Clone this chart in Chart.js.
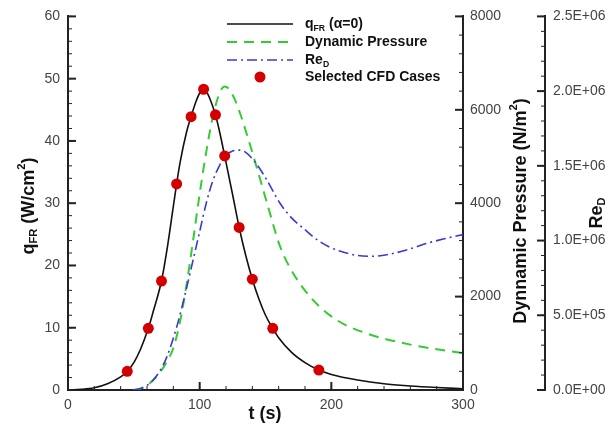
<!DOCTYPE html>
<html>
<head>
<meta charset="utf-8">
<script src="https://cdn.jsdelivr.net/npm/chart.js@4"></script>
<style>
html, body { margin: 0; padding: 0; background: #fff; }
#wrap { width: 616px; height: 432px; }
</style>
</head>
<body>
<div id="wrap"><canvas id="chart" width="616" height="432"></canvas></div>
<script>
// q_FR (alpha=0) heat flux, W/cm2
const tQ  = [0, 10, 20, 30, 40, 45, 50, 55, 61, 65, 71, 75, 80, 82.5, 85, 90, 93.5, 97, 100, 103, 106, 109, 112, 115, 119, 125, 130, 135, 140, 145, 150, 155.5, 160, 170, 180, 190.5, 200, 220, 240, 260, 280, 300];
const qFR = [0, 0.1, 0.35, 1.0, 2.1, 3.0, 4.4, 6.5, 9.9, 12.8, 17.5, 22.3, 29.5, 33.1, 36.4, 41.4, 43.9, 46.2, 47.7, 48.3, 47.6, 46.1, 44.2, 41.6, 37.6, 31.4, 26.1, 21.6, 17.8, 14.6, 12.0, 9.9, 8.4, 6.0, 4.4, 3.2, 2.5, 1.6, 1.0, 0.65, 0.4, 0.2];

// selected CFD cases
const tCases = [45, 61, 71, 82.5, 93.5, 103, 112, 119, 130, 140, 155.5, 190.5];
const qCases = [3.0, 9.9, 17.5, 33.1, 43.9, 48.3, 44.2, 37.6, 26.1, 17.8, 9.9, 3.2];

// dynamic pressure, N/m2
const tDP  = [50, 55, 60, 65, 70, 75, 80, 85, 90, 95, 100, 105, 110, 115, 119, 123, 127, 131, 135, 143, 152, 161, 171, 186, 204, 227, 262, 300];
const dynP = [0, 30, 100, 220, 380, 600, 900, 1450, 2250, 3200, 4200, 5100, 5850, 6350, 6500, 6420, 6200, 5900, 5550, 4800, 3920, 3080, 2500, 1930, 1500, 1210, 960, 790];

// Re_D
const tRe = [50, 55, 60, 65, 70, 75, 82.5, 90, 95, 100, 105, 110, 115, 120, 125, 130, 135, 143, 150, 161, 170, 179, 190, 199, 210, 220, 232, 245, 260, 272, 285, 300];
const reD = [0, 0.01e6, 0.03e6, 0.07e6, 0.13e6, 0.22e6, 0.42e6, 0.68e6, 0.87e6, 1.06e6, 1.25e6, 1.40e6, 1.50e6, 1.57e6, 1.60e6, 1.605e6, 1.59e6, 1.515e6, 1.42e6, 1.25e6, 1.15e6, 1.08e6, 1.00e6, 0.955e6, 0.92e6, 0.90e6, 0.895e6, 0.91e6, 0.945e6, 0.98e6, 1.01e6, 1.04e6];

// axis ticks
const xTicks  = [0, 100, 200, 300];
const qTicks  = [0, 10, 20, 30, 40, 50, 60];
const dpTicks = [0, 2000, 4000, 6000, 8000];
const reTicks = [0, 5e5, 1e6, 1.5e6, 2e6, 2.5e6];

const legendLabels = ['q_{FR} (α=0)', 'Dynamic Pressure', 'Re_{D}', 'Selected CFD Cases'];

function pts(xs, ys) {
    return xs.map((x, i) => ({ x: x, y: ys[i] }));
}

function sciLabel(v) {
    if (v === 0) return '0.0E+00';
    const e = Math.floor(Math.log10(v) + 1e-9);
    const m = v / Math.pow(10, e);
    return m.toFixed(1) + 'E+' + String(e).padStart(2, '0');
}

// draws text with _{sub} and ^{sup} parts
function drawRich(ctx, str, x, y, size, align) {
    const parts = [];
    const re = /([_^])\{([^}]*)\}/g;
    let last = 0, m;
    while ((m = re.exec(str)) !== null) {
        if (m.index > last) parts.push({ t: str.slice(last, m.index), s: size, dy: 0 });
        parts.push({ t: m[2], s: size * 0.62, dy: m[1] === '_' ? size * 0.3 : -size * 0.42 });
        last = re.lastIndex;
    }
    if (last < str.length) parts.push({ t: str.slice(last), s: size, dy: 0 });

    let total = 0;
    parts.forEach(p => {
        ctx.font = 'bold ' + p.s + 'px Arial, "Liberation Sans", sans-serif';
        p.w = ctx.measureText(p.t).width;
        total += p.w;
    });
    let cx = align === 'center' ? x - total / 2 : x;
    ctx.textBaseline = 'middle';
    ctx.textAlign = 'left';
    parts.forEach(p => {
        ctx.font = 'bold ' + p.s + 'px Arial, "Liberation Sans", sans-serif';
        ctx.fillText(p.t, cx, y + p.dy);
        cx += p.w;
    });
}

const tickMarks = {
    id: 'tickMarks',
    afterDraw(chart) {
        const ctx = chart.ctx;
        const axes = [
            { id: 'x',  major: xTicks,  minor: 20,  side: 'bottom' },
            { id: 'y',  major: qTicks,  minor: 2,   side: 'left' },
            { id: 'y1', major: dpTicks, minor: 400, side: 'right' },
            { id: 'y2', major: reTicks, minor: 1e5, side: 'right' }
        ];
        ctx.save();
        ctx.strokeStyle = '#222';
        axes.forEach(a => {
            const s = chart.scales[a.id];
            const draw = (v, len, w) => {
                const p = s.getPixelForValue(v);
                ctx.lineWidth = w;
                ctx.beginPath();
                if (a.side === 'bottom') {
                    ctx.moveTo(p, s.top); ctx.lineTo(p, s.top - len);
                } else if (a.side === 'left') {
                    ctx.moveTo(s.right, p); ctx.lineTo(s.right + len, p);
                } else {
                    ctx.moveTo(s.left, p); ctx.lineTo(s.left - len, p);
                }
                ctx.stroke();
            };
            for (let v = s.min; v <= s.max + 1e-6; v += a.minor) draw(v, 4, 1);
            a.major.forEach(v => draw(v, 8, 2));
        });
        ctx.restore();
    }
};

const titlesAndLegend = {
    id: 'titlesAndLegend',
    afterDraw(chart) {
        const ctx = chart.ctx;
        ctx.save();
        ctx.fillStyle = '#111';

        drawRich(ctx, 't (s)', 265, 414, 18, 'center');

        ctx.save();
        ctx.translate(29, 206);
        ctx.rotate(-Math.PI / 2);
        drawRich(ctx, 'q_{FR} (W/cm^{2})', 0, 0, 18, 'center');
        ctx.restore();

        ctx.save();
        ctx.translate(521, 211);
        ctx.rotate(-Math.PI / 2);
        drawRich(ctx, 'Dynnamic Pressure (N/m^{2})', 0, 0, 18, 'center');
        ctx.restore();

        ctx.save();
        ctx.translate(597, 213);
        ctx.rotate(-Math.PI / 2);
        drawRich(ctx, 'Re_{D}', 0, 0, 18, 'center');
        ctx.restore();

        // legend
        const rows = [24, 42, 60, 77];
        const order = [1, 3, 2, 0]; // dataset index per legend row
        order.forEach((di, i) => {
            const ds = chart.data.datasets[di];
            const y = rows[i];
            if (ds.showLine) {
                ctx.strokeStyle = ds.borderColor;
                ctx.lineWidth = ds.borderWidth;
                ctx.setLineDash(ds.borderDash || []);
                ctx.beginPath();
                ctx.moveTo(227, y);
                ctx.lineTo(293, y);
                ctx.stroke();
                ctx.setLineDash([]);
            } else {
                ctx.fillStyle = ds.backgroundColor;
                ctx.beginPath();
                ctx.arc(260, y, 5.5, 0, Math.PI * 2);
                ctx.fill();
            }
            ctx.fillStyle = '#111';
            drawRich(ctx, legendLabels[i], 305, y, 14, 'left');
        });
        ctx.restore();
    }
};

const tickFont = { family: 'Arial, "Liberation Sans", sans-serif', size: 14 };

new Chart(document.getElementById('chart').getContext('2d'), {
    type: 'scatter',
    data: {
        datasets: [
            {
                label: 'Selected CFD Cases',
                data: pts(tCases, qCases),
                yAxisID: 'y',
                showLine: false,
                pointRadius: 5.5,
                pointBackgroundColor: '#d40000',
                pointBorderWidth: 0,
                backgroundColor: '#d40000',
                order: 0
            },
            {
                label: 'q_FR',
                data: pts(tQ, qFR),
                yAxisID: 'y',
                showLine: true,
                borderColor: '#111',
                borderWidth: 1.6,
                pointRadius: 0,
                cubicInterpolationMode: 'monotone',
                order: 1
            },
            {
                label: 'Re_D',
                data: pts(tRe, reD),
                yAxisID: 'y2',
                showLine: true,
                borderColor: '#3a3ad0',
                borderWidth: 1.6,
                borderDash: [10, 4, 2, 4],
                pointRadius: 0,
                cubicInterpolationMode: 'monotone',
                order: 2
            },
            {
                label: 'Dynamic Pressure',
                data: pts(tDP, dynP),
                yAxisID: 'y1',
                showLine: true,
                borderColor: '#33cc33',
                borderWidth: 2,
                borderDash: [10, 7],
                pointRadius: 0,
                cubicInterpolationMode: 'monotone',
                order: 3
            }
        ]
    },
    options: {
        responsive: false,
        animation: false,
        devicePixelRatio: 1,
        layout: { padding: { top: 16, left: 0, right: 0, bottom: 0 } },
        plugins: { legend: { display: false }, tooltip: { enabled: false } },
        scales: {
            x: {
                type: 'linear', position: 'bottom', min: 0, max: 300,
                afterBuildTicks: s => { s.ticks = xTicks.map(v => ({ value: v })); },
                afterFit: s => { s.height = 42; },
                grid: { display: false, drawTicks: false },
                border: { display: true, color: '#222', width: 2 },
                ticks: { font: tickFont, color: '#444', padding: 7, maxRotation: 0, callback: v => String(v) }
            },
            y: {
                type: 'linear', position: 'left', min: 0, max: 60,
                afterBuildTicks: s => { s.ticks = qTicks.map(v => ({ value: v })); },
                afterFit: s => { s.width = 68; },
                grid: { display: false, drawTicks: false },
                border: { display: true, color: '#222', width: 2 },
                ticks: { font: tickFont, color: '#444', padding: 8, callback: v => String(v) }
            },
            y1: {
                type: 'linear', position: 'right', min: 0, max: 8000,
                afterBuildTicks: s => { s.ticks = dpTicks.map(v => ({ value: v })); },
                afterFit: s => { s.width = 82; },
                grid: { display: false, drawTicks: false },
                border: { display: true, color: '#222', width: 2 },
                ticks: { font: tickFont, color: '#444', padding: 7, callback: v => String(v) }
            },
            y2: {
                type: 'linear', position: 'right', min: 0, max: 2.5e6,
                afterBuildTicks: s => { s.ticks = reTicks.map(v => ({ value: v })); },
                afterFit: s => { s.width = 71; },
                grid: { display: false, drawTicks: false },
                border: { display: true, color: '#222', width: 2 },
                ticks: { font: tickFont, color: '#444', padding: 8, callback: v => sciLabel(v) }
            }
        }
    },
    plugins: [tickMarks, titlesAndLegend]
});
</script>
</body>
</html>
